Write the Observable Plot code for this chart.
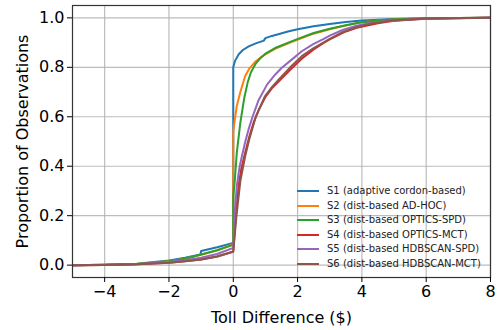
<!DOCTYPE html>
<html><head><meta charset="utf-8">
<script src="https://cdn.jsdelivr.net/npm/d3@7"></script>
<script src="https://cdn.jsdelivr.net/npm/@observablehq/plot@0.6"></script>
<style>
body{margin:0;background:#fff;}
#wrap{position:relative;width:502px;height:330px;font-family:"DejaVu Sans";}
#legend{position:absolute;left:297px;top:184px;font-size:10px;color:#222;line-height:14.5px;}
#legend .row{display:flex;align-items:center;height:14.5px;white-space:nowrap;}
#legend .sw{display:inline-block;width:22px;height:2px;margin-right:8px;}
</style></head><body><div id="wrap"><div id="legend"></div></div>
<script>
const seriesNames = ["S1 (adaptive cordon-based)","S2 (dist-based AD-HOC)","S3 (dist-based OPTICS-SPD)","S4 (dist-based OPTICS-MCT)","S5 (dist-based HDBSCAN-SPD)","S6 (dist-based HDBSCAN-MCT)"];
const seriesColors = ["#1f77b4","#ff7f0e","#2ca02c","#d62728","#9467bd","#8c564b"];
const xTicks = [-4,-2,0,2,4,6,8];
const yTicks = [0,0.2,0.4,0.6,0.8,1.0];

const s1x = [-5,-4,-3,-2,-1.5,-1.02,-1.0,-0.5,0,0,0.05,0.17,0.3,0.48,0.7,0.95,1.0,1.2,1.4,1.7,2.0,2.5,3.0,3.5,4.0,5.0,6.0,8.0];
const s1y = [0,0.002,0.006,0.019,0.03,0.043,0.057,0.072,0.09,0.80,0.825,0.853,0.870,0.885,0.897,0.908,0.918,0.927,0.934,0.945,0.954,0.966,0.975,0.983,0.989,0.995,0.998,1.0];
const s2x = [-5,-4,-3,-2,-1.5,-1,-0.5,0,0,0.05,0.11,0.22,0.37,0.5,0.68,0.85,1.0,1.3,1.77,2.03,2.5,3.0,3.5,3.94,4.5,5,6,8];
const s2y = [0,0.002,0.005,0.016,0.026,0.042,0.06,0.085,0.54,0.59,0.644,0.70,0.765,0.795,0.822,0.84,0.852,0.875,0.90,0.913,0.936,0.954,0.969,0.981,0.989,0.993,0.998,1.0];
const s3x = [-5,-4,-3,-2,-1.5,-1,-0.5,0,0,0.04,0.11,0.22,0.34,0.45,0.55,0.7,0.85,1.0,1.3,1.77,2.03,2.5,3.0,3.5,3.94,4.5,5,6,8];
const s3y = [0,0.002,0.005,0.016,0.026,0.043,0.06,0.082,0.28,0.33,0.455,0.576,0.675,0.74,0.78,0.815,0.838,0.855,0.878,0.903,0.916,0.939,0.956,0.97,0.981,0.989,0.993,0.998,1.0];
const s4x = [-5,-4,-3,-2,-1.5,-1,-0.5,0,0.08,0.165,0.25,0.37,0.5,0.63,0.8,1.0,1.2,1.41,1.77,2.13,2.5,2.8,3.0,3.5,3.84,4.5,5,6,8];
const s4y = [0,0.001,0.004,0.01,0.016,0.023,0.035,0.055,0.2,0.32,0.39,0.455,0.52,0.576,0.63,0.68,0.715,0.742,0.79,0.835,0.872,0.898,0.913,0.945,0.96,0.978,0.988,0.996,1.0];
const s5x = [-5,-4,-3,-2,-1.5,-1,-0.5,0,0.04,0.11,0.2,0.27,0.375,0.475,0.6,0.79,1.05,1.3,1.5,1.77,2.13,2.5,2.8,3.0,3.4,3.84,4.3,4.88,6,8];
const s5y = [0,0.001,0.004,0.013,0.02,0.03,0.045,0.07,0.2,0.32,0.40,0.441,0.50,0.549,0.60,0.668,0.73,0.77,0.797,0.826,0.865,0.895,0.914,0.928,0.951,0.968,0.98,0.988,0.997,1.0];
const s6x = [-5,-4,-3,-2,-1.5,-1,-0.5,0,0.1,0.22,0.37,0.5,0.7,0.99,1.2,1.41,1.77,2.13,2.5,2.8,3.0,3.4,3.84,4.3,4.88,6,8];
const s6y = [0,0.001,0.004,0.01,0.016,0.023,0.035,0.054,0.2,0.34,0.44,0.51,0.6,0.684,0.72,0.75,0.8,0.845,0.878,0.90,0.915,0.942,0.962,0.977,0.988,0.997,1.0];

const xs = [s1x,s2x,s3x,s4x,s5x,s6x];
const ys = [s1y,s2y,s3y,s4y,s5y,s6y];
const data = [];
seriesNames.forEach((name,i)=>{ xs[i].forEach((x,j)=>data.push({s:name,x,y:ys[i][j]})); });

const chart = Plot.plot({
  width:502, height:330,
  marginLeft:72, marginRight:12, marginTop:5, marginBottom:53,
  style:{fontFamily:"DejaVu Sans", fontSize:"16px", background:"#fff", color:"#000", overflow:"visible"},
  x:{domain:[-5,8]},
  y:{domain:[-0.05,1.05]},
  color:{domain:seriesNames, range:seriesColors},
  marks:[
    Plot.gridX(xTicks,{stroke:"#b0b0b0", strokeOpacity:0.85, strokeWidth:1.2}),
    Plot.gridY(yTicks,{stroke:"#b0b0b0", strokeOpacity:0.85, strokeWidth:1.2}),
    Plot.line(data,{x:"x", y:"y", z:"s", stroke:"s", strokeWidth:2, clip:true}),
    Plot.frame({stroke:"#333", strokeWidth:1.2}),
    Plot.axisX(xTicks,{tickSize:5, tickPadding:3, fontSize:16, label:"Toll Difference ($)", labelAnchor:"center", labelArrow:"none", labelOffset:45}),
    Plot.axisY(yTicks,{tickSize:5, tickPadding:3, fontSize:16, tickFormat:d3.format(".1f"), label:"Proportion of Observations", labelAnchor:"center", labelArrow:"none", labelOffset:56})
  ]
});
const wrap = document.getElementById("wrap");
wrap.insertBefore(chart, wrap.firstChild);

const legend = document.getElementById("legend");
seriesNames.forEach((name,i)=>{
  const row = document.createElement("div"); row.className="row";
  const sw = document.createElement("span"); sw.className="sw"; sw.style.background=seriesColors[i];
  const t = document.createElement("span"); t.textContent = name;
  row.appendChild(sw); row.appendChild(t); legend.appendChild(row);
});
</script></body></html>
